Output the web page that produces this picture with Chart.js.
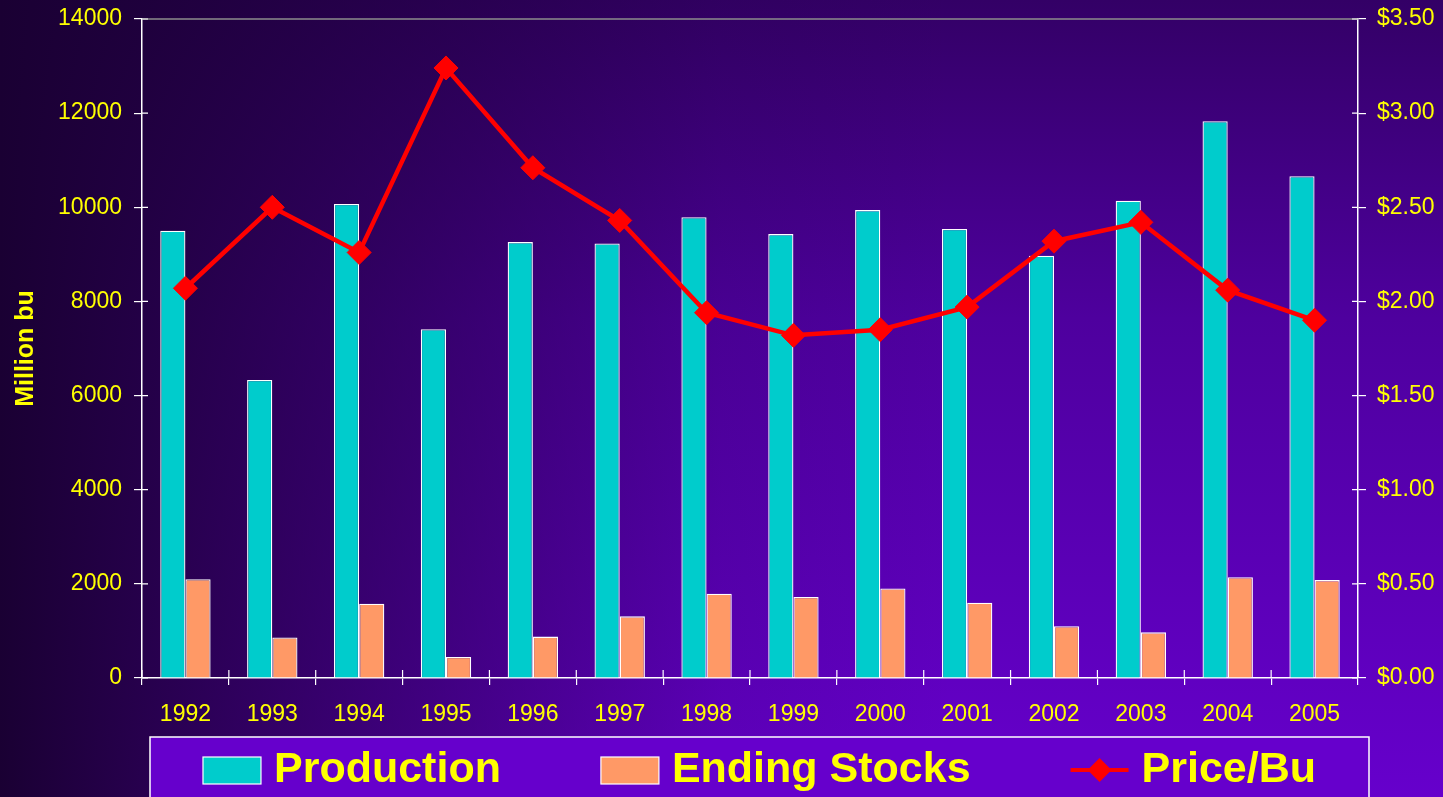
<!DOCTYPE html>
<html>
<head>
<meta charset="utf-8">
<title>Production, Ending Stocks and Price</title>
<script src="https://cdn.jsdelivr.net/npm/chart.js@4.4.1/dist/chart.umd.min.js"></script>
<style>
    html, body { margin: 0; padding: 0; background: #2a0055; }
    #wrap { width: 1443px; height: 797px; }
</style>
</head>
<body>
<div id="wrap"><canvas id="chart" width="1443" height="797"></canvas></div>
<script>
// Datos
const years = ['1992', '1993', '1994', '1995', '1996', '1997', '1998', '1999', '2000', '2001', '2002', '2003', '2004', '2005'];
const production = [9500, 6330, 10070, 7410, 9260, 9230, 9790, 9430, 9940, 9540, 8970, 10140, 11830, 10660];
const endingStocks = [2100, 860, 1580, 445, 880, 1310, 1790, 1720, 1900, 1600, 1100, 970, 2140, 2080];
const pricePerBu = [2.07, 2.50, 2.26, 3.24, 2.71, 2.43, 1.94, 1.82, 1.85, 1.97, 2.32, 2.42, 2.06, 1.90];

const leftTicks = { min: 0, max: 14000, step: 2000 };
const rightTicks = { min: 0, max: 3.5, step: 0.5 };

const YELLOW = '#FFFF00';
const FONT = 'Arial, "Liberation Sans", sans-serif';

Chart.defaults.font.family = FONT;

// Fondo degradado y marco superior
const backgroundPlugin = {
    id: 'background',
    beforeDraw(chart) {
        const { ctx, width, height } = chart;
        ctx.save();
        const v = ctx.createLinearGradient(0, 0, 0, height);
        v.addColorStop(0, '#330066');
        v.addColorStop(0.4, '#4e009e');
        v.addColorStop(1, '#6600cc');
        ctx.fillStyle = v;
        ctx.fillRect(0, 0, width, height);
        const h = ctx.createLinearGradient(0, 0, width, 0);
        h.addColorStop(0, 'rgba(26,0,51,1)');
        h.addColorStop(0.14, 'rgba(26,0,51,0.75)');
        h.addColorStop(0.5, 'rgba(26,0,51,0.1)');
        h.addColorStop(0.66, 'rgba(26,0,51,0)');
        ctx.fillStyle = h;
        ctx.fillRect(0, 0, width, height);
        ctx.restore();
    },
    afterDraw(chart) {
        const { ctx, chartArea } = chart;
        ctx.save();
        ctx.strokeStyle = '#8c8c8c';
        ctx.lineWidth = 1.5;
        ctx.beginPath();
        ctx.moveTo(chartArea.left, chartArea.top);
        ctx.lineTo(chartArea.right, chartArea.top);
        ctx.stroke();

        // marcas cruzadas hacia dentro
        ctx.strokeStyle = '#ffffff';
        ctx.lineWidth = 1.2;
        const yl = chart.scales.y, yr = chart.scales.y1, x = chart.scales.x;
        ctx.beginPath();
        yl.ticks.forEach((t, i) => {
            const py = yl.getPixelForTick(i);
            ctx.moveTo(chartArea.left, py);
            ctx.lineTo(chartArea.left + 6, py);
        });
        yr.ticks.forEach((t, i) => {
            const py = yr.getPixelForTick(i);
            ctx.moveTo(chartArea.right, py);
            ctx.lineTo(chartArea.right - 6, py);
        });
        const n = x.ticks.length;
        for (let i = 0; i <= n; i++) {
            const px = x.left + i * x.width / n;
            ctx.moveTo(px, chartArea.bottom);
            ctx.lineTo(px, chartArea.bottom - 8);
        }
        ctx.stroke();
        ctx.restore();
    }
};

// Leyenda en caja inferior
const legendBoxPlugin = {
    id: 'legendBox',
    afterDraw(chart) {
        const { ctx } = chart;
        const box = { left: 150, top: 737, right: 1369, bottom: 810 };
        ctx.save();
        ctx.fillStyle = '#6600cc';
        ctx.fillRect(box.left, box.top, box.right - box.left, box.bottom - box.top);
        ctx.strokeStyle = '#ffffff';
        ctx.lineWidth = 1.5;
        ctx.strokeRect(box.left, box.top, box.right - box.left, box.bottom - box.top);

        ctx.font = 'bold 43px ' + FONT;
        const swatchW = 58, gapText = 13, gapItem = 100;
        const items = chart.data.datasets.slice().sort((a, b) => a.legendIndex - b.legendIndex);
        let total = 0;
        items.forEach((ds, i) => {
            total += swatchW + gapText + ctx.measureText(ds.label).width;
            if (i < items.length - 1) total += gapItem;
        });
        let cx = (box.left + box.right) / 2 - total / 2;
        const cy = 770;
        items.forEach(ds => {
            if (ds.type === 'line') {
                ctx.strokeStyle = ds.borderColor;
                ctx.lineWidth = 4;
                ctx.beginPath();
                ctx.moveTo(cx, cy);
                ctx.lineTo(cx + swatchW, cy);
                ctx.stroke();
                ctx.fillStyle = ds.pointBackgroundColor;
                ctx.beginPath();
                ctx.moveTo(cx + swatchW / 2, cy - 12);
                ctx.lineTo(cx + swatchW / 2 + 12, cy);
                ctx.lineTo(cx + swatchW / 2, cy + 12);
                ctx.lineTo(cx + swatchW / 2 - 12, cy);
                ctx.closePath();
                ctx.fill();
            } else {
                ctx.fillStyle = ds.backgroundColor;
                ctx.fillRect(cx, cy - 13, swatchW, 27);
                ctx.strokeStyle = '#ffffff';
                ctx.lineWidth = 1.2;
                ctx.strokeRect(cx, cy - 13, swatchW, 27);
            }
            cx += swatchW + gapText;
            ctx.fillStyle = YELLOW;
            ctx.textBaseline = 'middle';
            ctx.textAlign = 'left';
            ctx.fillText(ds.label, cx, cy);
            cx += ctx.measureText(ds.label).width + gapItem;
        });
        ctx.restore();
    }
};

function fixVertical(width) {
    return function (scale) {
        scale.width = width;
        scale.paddingTop = 0;
        scale.paddingBottom = 0;
    };
}

function createChart() {
    const ctx = document.getElementById('chart').getContext('2d');
    new Chart(ctx, {
        data: {
            labels: years,
            datasets: [{
                type: 'line',
                label: 'Price/Bu',
                legendIndex: 2,
                data: pricePerBu,
                yAxisID: 'y1',
                borderColor: '#ff0000',
                borderWidth: 4.5,
                pointStyle: 'rectRot',
                pointRadius: 12,
                pointBackgroundColor: '#ff0000',
                pointBorderColor: '#ff0000',
                pointBorderWidth: 1,
                tension: 0,
                order: 0
            }, {
                type: 'bar',
                label: 'Production',
                legendIndex: 0,
                data: production,
                yAxisID: 'y',
                backgroundColor: '#00cccc',
                borderColor: '#ffffff',
                borderWidth: 1.3,
                categoryPercentage: 0.58,
                barPercentage: 1.0,
                order: 1
            }, {
                type: 'bar',
                label: 'Ending Stocks',
                legendIndex: 1,
                data: endingStocks,
                yAxisID: 'y',
                backgroundColor: '#ff9966',
                borderColor: '#ffffff',
                borderWidth: 1.3,
                categoryPercentage: 0.58,
                barPercentage: 1.0,
                order: 2
            }]
        },
        options: {
            responsive: false,
            animation: false,
            layout: { padding: { top: 19, bottom: 60, left: 0, right: 0 } },
            plugins: {
                legend: { display: false },
                tooltip: { enabled: false }
            },
            scales: {
                x: {
                    offset: true,
                    grid: { offset: true, drawOnChartArea: false, color: '#ffffff', tickLength: 7, lineWidth: 1.2 },
                    border: { color: '#ffffff', width: 1.5 },
                    ticks: { color: YELLOW, font: { size: 23 }, padding: 16, maxRotation: 0 },
                    afterFit(scale) {
                        scale.height = 59;
                        scale.paddingLeft = 0;
                        scale.paddingRight = 0;
                    }
                },
                y: {
                    position: 'left',
                    min: leftTicks.min,
                    max: leftTicks.max,
                    grid: { drawOnChartArea: false, color: '#ffffff', tickLength: 8, lineWidth: 1.2 },
                    border: { color: '#ffffff', width: 1.5 },
                    ticks: {
                        stepSize: leftTicks.step,
                        color: YELLOW,
                        font: { size: 23 },
                        padding: 12,
                        callback: v => String(v)
                    },
                    title: {
                        display: true,
                        text: 'Million bu',
                        color: YELLOW,
                        font: { size: 25, weight: 'bold' },
                        padding: { top: 11, bottom: 0 }
                    },
                    afterFit: fixVertical(142)
                },
                y1: {
                    position: 'right',
                    min: rightTicks.min,
                    max: rightTicks.max,
                    grid: { drawOnChartArea: false, color: '#ffffff', tickLength: 8, lineWidth: 1.2 },
                    border: { color: '#ffffff', width: 1.5 },
                    ticks: {
                        stepSize: rightTicks.step,
                        color: YELLOW,
                        font: { size: 23 },
                        padding: 11,
                        callback: v => '$' + Number(v).toFixed(2)
                    },
                    afterFit: fixVertical(85)
                }
            }
        },
        plugins: [backgroundPlugin, legendBoxPlugin]
    });
}

document.addEventListener('DOMContentLoaded', createChart);
</script>
</body>
</html>
